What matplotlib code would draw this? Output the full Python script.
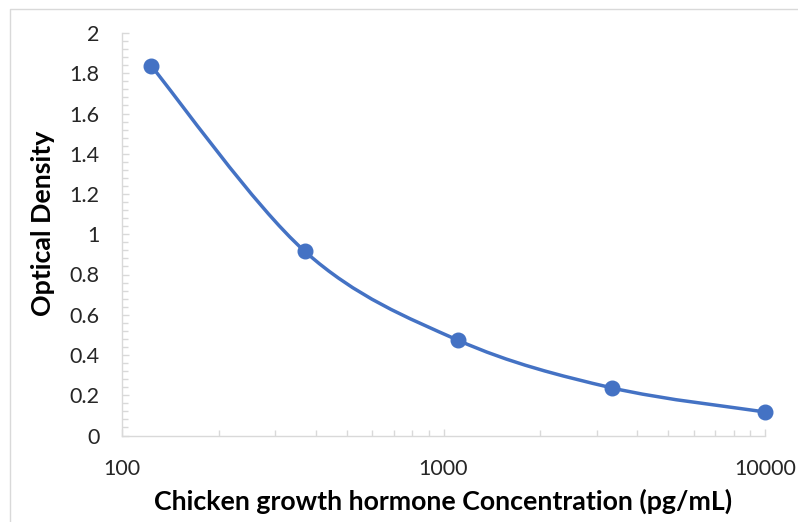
import numpy as np
import matplotlib
matplotlib.use('Agg')
import matplotlib.pyplot as plt
from matplotlib.path import Path
from matplotlib.patches import PathPatch
from matplotlib.lines import Line2D
from matplotlib.ticker import LogLocator, MultipleLocator, FixedLocator, NullFormatter

plt.rcParams['font.family'] = ['Lato', 'DejaVu Sans']

# standard curve data
concentration = [123.5, 370.4, 1111.1, 3333.3, 10000]
optical_density = [1.835, 0.915, 0.473, 0.237, 0.117]

x_ticks = [100, 1000, 10000]
x_tick_labels = ['100', '1000', '10000']
y_ticks = [0, 0.2, 0.4, 0.6, 0.8, 1, 1.2, 1.4, 1.6, 1.8, 2]
y_tick_labels = ['0', '0.2', '0.4', '0.6', '0.8', '1', '1.2', '1.4', '1.6', '1.8', '2']

blue = '#4472C4'
grey = '#D9D9D9'
text_col = '#262626'

W, H = 798, 522
fig = plt.figure(figsize=(W / 100, H / 100), dpi=100)
ax = fig.add_axes([122 / W, (H - 435.5) / H, (765 - 122) / W, (435.5 - 33) / H])

# chart area border (only the top and left edges are inside the crop)
fig.lines.append(Line2D([9.5 / W, 9.5 / W, 1], [0, 1 - 8.5 / H, 1 - 8.5 / H],
                        transform=fig.transFigure, color=grey, linewidth=1))


def smooth_path(xs, ys):
    # Excel-style smoothed line: cubic Bezier segments, Catmull-Rom control points in log-x space
    lx = np.log10(xs)
    pts = np.column_stack([lx, ys])
    n = len(pts)
    verts = [pts[0]]
    codes = [Path.MOVETO]
    for i in range(n - 1):
        p0 = pts[i - 1] if i > 0 else pts[i]
        p1 = pts[i]
        p2 = pts[i + 1]
        p3 = pts[i + 2] if i + 2 < n else pts[i + 1]
        c1 = p1 + (p2 - p0) / 6
        c2 = p2 - (p3 - p1) / 6
        verts += [c1, c2, p2]
        codes += [Path.CURVE4] * 3
    verts = np.array(verts)
    verts[:, 0] = 10 ** verts[:, 0]
    return Path(verts, codes)


ax.add_patch(PathPatch(smooth_path(concentration, optical_density), facecolor='none',
                       edgecolor=blue, linewidth=2.5, capstyle='round', zorder=3,
                       clip_on=False))
ax.plot(concentration, optical_density, 'o', color=blue, markersize=10.5, zorder=4,
        clip_on=False)

ax.set_xscale('log')
ax.set_xlim(100, 10000)
ax.set_ylim(0, 2)

ax.xaxis.set_major_locator(FixedLocator(x_ticks))
ax.set_xticklabels(x_tick_labels)
ax.xaxis.set_minor_locator(LogLocator(base=10, subs=np.arange(2, 10)))
ax.xaxis.set_minor_formatter(NullFormatter())
ax.set_yticks(y_ticks)
ax.set_yticklabels(y_tick_labels)
ax.yaxis.set_minor_locator(MultipleLocator(0.04))

for s in ['top', 'right']:
    ax.spines[s].set_visible(False)
for s in ['left', 'bottom']:
    ax.spines[s].set_color(grey)
    ax.spines[s].set_linewidth(1)

ax.tick_params(axis='both', which='both', direction='in', color=grey, width=1)
ax.tick_params(axis='both', which='major', length=5)
ax.tick_params(axis='both', which='minor', length=4)
ax.tick_params(axis='y', which='major', pad=16, labelsize=15.5, labelcolor=text_col)
ax.tick_params(axis='x', which='major', pad=17, labelsize=15.5, labelcolor=text_col)

fig.text(443 / W, 1 - 501 / H, 'Chicken growth hormone Concentration (pg/mL)',
         ha='center', va='center', fontsize=19.3, fontweight='bold', color='black')
fig.text(43 / W, 1 - 223 / H, 'Optical Density', ha='center', va='center',
         rotation=90, fontsize=19.3, fontweight='bold', color='black')

fig.savefig('out.png', dpi=100)
